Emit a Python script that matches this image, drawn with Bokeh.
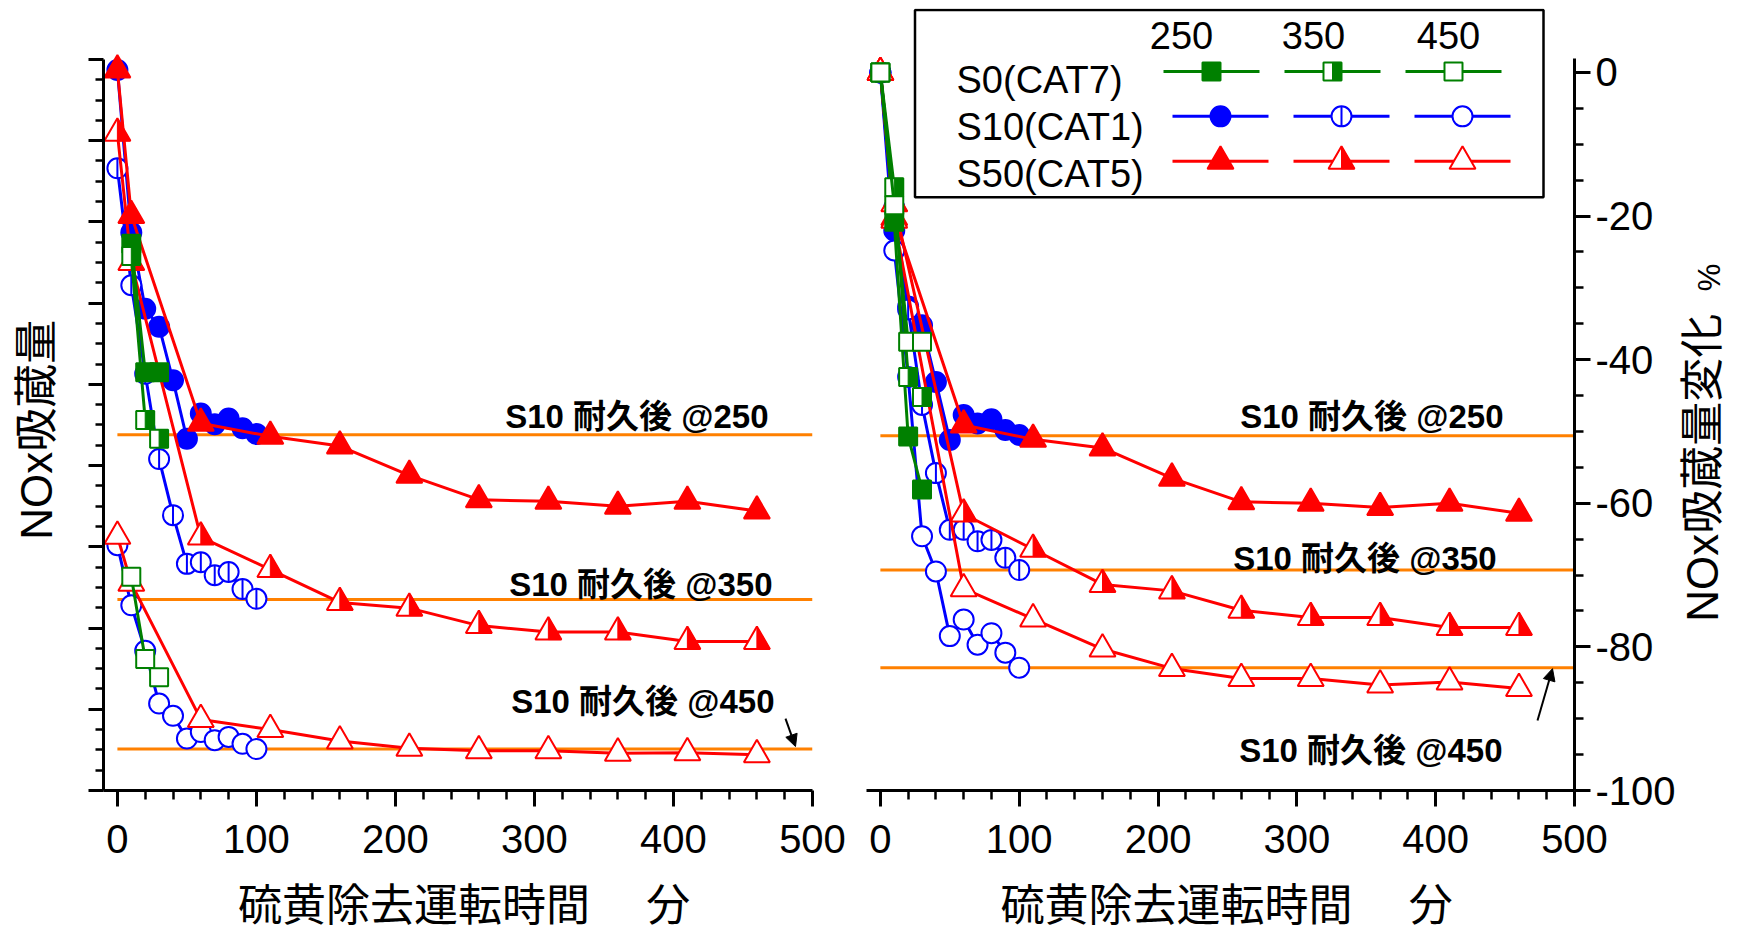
import math
from bokeh.plotting import figure
from bokeh.layouts import row
from bokeh.models import FixedTicker, Label, Arrow, NormalHead, Range1d
from bokeh.embed import file_html
from bokeh.resources import INLINE
from bokeh.core.properties import value

# ---------------- data ----------------
temps = ["250", "350", "450"]
catalysts = ["S0(CAT7)", "S10(CAT1)", "S50(CAT5)"]

time_s0_left = [10, 20, 30]
time_s0 = [0, 10, 20, 30]
time_s10 = [0, 10, 20, 30, 40, 50, 60, 70, 80, 90, 100]
time_s50 = [0, 10, 60, 110, 160, 210, 260, 310, 360, 410, 460]

# left panel: NOx storage amount (unlabelled axis units)
abs_s0_250 = [6.73, 5.15, 5.15]
abs_s0_350 = [6.58, 4.56, 4.33]
abs_s0_450 = [2.63, 1.62, 1.395]
abs_s10_250 = [8.87, 6.87, 5.93, 5.71, 5.05, 4.33, 4.64, 4.51, 4.58, 4.46, 4.39]
abs_s10_350 = [7.66, 6.22, 5.13, 4.08, 3.39, 2.79, 2.81, 2.65, 2.69, 2.48, 2.36]
abs_s10_450 = [3.02, 2.28, 1.72, 1.07, 0.92, 0.64, 0.72, 0.62, 0.66, 0.575, 0.51]
abs_s50_250 = [8.87, 7.08, 4.52, 4.36, 4.24, 3.88, 3.58, 3.56, 3.50, 3.56, 3.44]
abs_s50_350 = [8.09, 6.50, 3.12, 2.72, 2.315, 2.245, 2.03, 1.95, 1.95, 1.835, 1.835]
abs_s50_450 = [3.13, 2.55, 0.875, 0.75, 0.61, 0.52, 0.49, 0.49, 0.46, 0.465, 0.44]

# right panel: change of NOx storage amount, %
pct_s0_250 = [0, -20.8, -50.7, -58.1]
pct_s0_350 = [0, -16.0, -42.4, -45.2]
pct_s0_450 = [0, -18.5, -37.5, -37.5]
pct_s10_250 = [0, -22.0, -32.6, -35.2, -43.1, -51.2, -47.7, -48.9, -48.3, -49.8, -50.5]
pct_s10_350 = [0, -18.8, -33.0, -46.3, -55.8, -63.7, -63.7, -65.3, -65.1, -67.6, -69.3]
pct_s10_450 = [0, -24.8, -42.4, -64.6, -69.5, -78.5, -76.2, -79.7, -78.1, -80.8, -82.9]
pct_s50_250 = [0, -20.2, -49.1, -51.1, -52.3, -56.5, -59.8, -60.0, -60.6, -60.0, -61.4]
pct_s50_350 = [0, -18.3, -61.5, -66.4, -71.3, -72.2, -74.9, -75.9, -75.9, -77.3, -77.3]
pct_s50_450 = [0, -20.6, -71.9, -76.1, -80.3, -83.0, -84.4, -84.4, -85.3, -84.9, -85.8]

# S10 after durability reference levels (@250, @350, @450)
ref_x = [0, 500]
ref_abs = [4.38, 2.35, 0.51]
ref_pct = [-50.6, -69.3, -82.9]
ref_labels = ["S10 耐久後 @250", "S10 耐久後 @350", "S10 耐久後 @450"]

x_major = [0, 100, 200, 300, 400, 500]
x_minor = [v for v in range(20, 500, 20) if v % 100]
left_y_major = list(range(0, 10))
left_y_minor = [i * 0.25 for i in range(0, 37) if i % 4]
right_y_major = [-100, -80, -60, -40, -20, 0]
right_y_minor = [v for v in range(-95, 0, 5) if v % 20]
right_y_labels = {v: str(v) for v in right_y_major}

x_title = "\u00a0硫黄除去運転時間　 分"
left_y_title = "NOx吸蔵量"
right_y_title = "NOx吸蔵量変化"
right_y_unit = "%"

# ---------------- layout / style (page pixels) ----------------
FIG_H = 932
TL_X, L_X, R_X, TR_X, PAGE_W = 0, 64, 850, 1678, 1742
FRAME_TOP, FRAME_BOTTOM = 8, 791
L_FRAME = (103, 812)
R_FRAME = (866, 1574)
X_RANGE = (-10, 500)
L_Y_RANGE = (0, 9.627)
R_Y_RANGE = (-100, 8.90)

GREEN, BLUE, RED, ORANGE = "#008000", "#0000FF", "#FF0000", "#FF8000"
LATIN = "Liberation Sans"
MIXED = "Liberation Sans, Noto Sans CJK JP"
MSIZE = {"circle": 20, "square": 18, "triangle": 26}
SQ3 = math.sqrt(3)
MID = 0.3465  # em-box middle above the baseline (Liberation Sans)


def kx_of(frame):
    return (frame[1] - frame[0]) / (X_RANGE[1] - X_RANGE[0])


def ky_of(yr):
    return (FRAME_BOTTOM - FRAME_TOP) / (yr[1] - yr[0])


def page_to_data(px, py, frame, yr):
    x = X_RANGE[0] + (px - frame[0]) / kx_of(frame)
    y = yr[0] + (FRAME_BOTTOM - py) / ky_of(yr)
    return x, y


def make_fig(x0, x1, frame, yr, y_loc):
    width = x1 - x0
    p = figure(width=width, height=FIG_H,
               x_range=Range1d(*X_RANGE), y_range=Range1d(*yr),
               output_backend="svg", toolbar_location=None,
               y_axis_location=y_loc,
               min_border_left=frame[0] - x0,
               min_border_right=x1 - frame[1],
               min_border_top=FRAME_TOP,
               min_border_bottom=FIG_H - FRAME_BOTTOM)
    p.xgrid.visible = False
    p.ygrid.visible = False
    p.outline_line_color = None
    p.background_fill_color = "white"
    p.border_fill_color = "white"
    for ax in (p.xaxis[0], p.yaxis[0]):
        ax.axis_line_width = 3
        ax.axis_line_color = "black"
        ax.major_tick_line_width = 3
        ax.minor_tick_line_width = 2.5
        ax.major_tick_in = 0
        ax.minor_tick_in = 0
        ax.major_tick_out = 16
        ax.minor_tick_out = 9
        ax.major_label_text_font = LATIN
        ax.major_label_text_font_size = "40px"
        ax.major_label_text_color = "black"
    p.xaxis.ticker = FixedTicker(ticks=x_major, minor_ticks=x_minor)
    p.xaxis.major_label_standoff = 18
    p.xaxis.axis_label = x_title
    p.xaxis.axis_label_text_font = MIXED
    p.xaxis.axis_label_text_font_size = "44px"
    p.xaxis.axis_label_text_font_style = "normal"
    p.xaxis.axis_label_text_color = "black"
    p.xaxis.axis_label_standoff = 25
    return p


def side_fig(x0, x1):
    p = figure(width=x1 - x0, height=FIG_H, x_range=Range1d(x0, x1),
               y_range=Range1d(FRAME_BOTTOM, FRAME_TOP),
               x_axis_type=None, y_axis_type=None,
               output_backend="svg", toolbar_location=None,
               min_border_left=0, min_border_right=0, min_border_top=FRAME_TOP,
               min_border_bottom=FIG_H - FRAME_BOTTOM)
    p.outline_line_color = None
    p.background_fill_color = "white"
    p.border_fill_color = "white"
    return p


def draw_markers(p, xs, ys, color, kind, style, kx, ky):
    size = MSIZE[kind]
    fill = color if style == "filled" else "white"
    p.scatter(xs, ys, marker=kind, size=size, fill_color=fill,
              line_color=color, line_width=2)
    if style == "half":
        if kind == "circle":
            p.scatter(xs, ys, marker="dash", angle=math.pi / 2, size=size,
                      line_color=color, line_width=2)
        else:
            r = size / 2
            pxs, pys = [], []
            for x, y in zip(xs, ys):
                if kind == "square":
                    offs = [(0, -r), (r, -r), (r, r), (0, r)]
                else:
                    h = r * SQ3
                    a = h / 3
                    offs = [(0, -a), (r, -a), (0, h - a)]
                pxs.append([x + ox / kx for ox, oy in offs])
                pys.append([y + oy / ky for ox, oy in offs])
            p.patches(pxs, pys, fill_color=color, line_color=color, line_width=1)


def draw_series(p, xs, ys, color, kind, style, kx, ky):
    p.line(xs, ys, line_color=color, line_width=3)
    draw_markers(p, xs, ys, color, kind, style, kx, ky)


def add_text(p, frame, yr, px, py_base, text, size, align, bold=False, font=LATIN):
    x, y = page_to_data(px, py_base - MID * size, frame, yr)
    p.add_layout(Label(x=x, y=y, text=text, text_font=font,
                       text_font_style="bold" if bold else "normal",
                       text_font_size=f"{size}px", text_align=align,
                       text_baseline="middle", text_color="black"))


styles = ["filled", "half", "open"]

# ================= left figure =================
pl = make_fig(L_X, R_X, L_FRAME, L_Y_RANGE, "left")
pl.yaxis.ticker = FixedTicker(ticks=left_y_major, minor_ticks=left_y_minor)
pl.yaxis.bounds = (0, 9)
pl.yaxis.major_tick_out = 15
pl.yaxis.minor_tick_out = 8
pl.yaxis.major_label_text_font_size = "1px"
pl.yaxis.major_label_text_color = None
lkx, lky = kx_of(L_FRAME), ky_of(L_Y_RANGE)

for yv in ref_abs:
    pl.line(ref_x, [yv, yv], line_color=ORANGE, line_width=3)

left_series = [
    (time_s10, abs_s10_250, BLUE, "circle", "filled"),
    (time_s10, abs_s10_350, BLUE, "circle", "half"),
    (time_s10, abs_s10_450, BLUE, "circle", "open"),
    (time_s50, abs_s50_250, RED, "triangle", "filled"),
    (time_s50, abs_s50_350, RED, "triangle", "half"),
    (time_s50, abs_s50_450, RED, "triangle", "open"),
    (time_s0_left, abs_s0_250, GREEN, "square", "filled"),
    (time_s0_left, abs_s0_350, GREEN, "square", "half"),
    (time_s0_left, abs_s0_450, GREEN, "square", "open"),
]
for xs, ys, c, k, s in left_series:
    draw_series(pl, xs, ys, c, k, s, lkx, lky)

left_label_pos = [(768, 428), (772, 596), (774, 713)]
for (px, py), txt in zip(left_label_pos, ref_labels):
    add_text(pl, L_FRAME, L_Y_RANGE, px, py, txt, 33, "right", bold=True, font=MIXED)

x0, y0 = page_to_data(785, 719, L_FRAME, L_Y_RANGE)
x1, y1 = page_to_data(795, 747, L_FRAME, L_Y_RANGE)
pl.add_layout(Arrow(end=NormalHead(size=12, fill_color="black", line_color="black"),
                    x_start=x0, y_start=y0, x_end=x1, y_end=y1,
                    line_color="black", line_width=2))

# ================= right figure =================
pr = make_fig(R_X, TR_X, R_FRAME, R_Y_RANGE, "right")
pr.yaxis.ticker = FixedTicker(ticks=right_y_major, minor_ticks=right_y_minor)
pr.yaxis.bounds = (-100, 1.9)
pr.yaxis.major_label_standoff = 5
pr.yaxis.major_label_overrides = right_y_labels
rkx, rky = kx_of(R_FRAME), ky_of(R_Y_RANGE)

for yv in ref_pct:
    pr.line(ref_x, [yv, yv], line_color=ORANGE, line_width=3)

right_series = [
    (time_s10, pct_s10_250, BLUE, "circle", "filled"),
    (time_s10, pct_s10_350, BLUE, "circle", "half"),
    (time_s10, pct_s10_450, BLUE, "circle", "open"),
    (time_s50, pct_s50_250, RED, "triangle", "filled"),
    (time_s50, pct_s50_350, RED, "triangle", "half"),
    (time_s50, pct_s50_450, RED, "triangle", "open"),
    (time_s0, pct_s0_250, GREEN, "square", "filled"),
    (time_s0, pct_s0_350, GREEN, "square", "half"),
    (time_s0, pct_s0_450, GREEN, "square", "open"),
]
for xs, ys, c, k, s in right_series:
    draw_series(pr, xs, ys, c, k, s, rkx, rky)

right_label_pos = [(1503, 428), (1496, 570), (1502, 762)]
for (px, py), txt in zip(right_label_pos, ref_labels):
    add_text(pr, R_FRAME, R_Y_RANGE, px, py, txt, 33, "right", bold=True, font=MIXED)

x0, y0 = page_to_data(1537, 721, R_FRAME, R_Y_RANGE)
x1, y1 = page_to_data(1552, 669, R_FRAME, R_Y_RANGE)
pr.add_layout(Arrow(end=NormalHead(size=12, fill_color="black", line_color="black"),
                    x_start=x0, y_start=y0, x_end=x1, y_end=y1,
                    line_color="black", line_width=2))

# legend box
bl, bt = page_to_data(914.5, 9.5, R_FRAME, R_Y_RANGE)
br, bb = page_to_data(1543, 197, R_FRAME, R_Y_RANGE)
pr.quad(left=[bl], right=[br], top=[bt], bottom=[bb], fill_color="white",
        line_color="black", line_width=2.5)
header_x = [1181, 1313, 1448]
for hx, t in zip(header_x, temps):
    add_text(pr, R_FRAME, R_Y_RANGE, hx, 48, t, 38, "center")
legend_rows = [
    (catalysts[0], GREEN, "square", 71, 93, [1211, 1332, 1453]),
    (catalysts[1], BLUE, "circle", 116, 140, [1220, 1341, 1462]),
    (catalysts[2], RED, "triangle", 161, 187, [1220, 1341, 1462]),
]
for name, c, k, ly, base, cols in legend_rows:
    add_text(pr, R_FRAME, R_Y_RANGE, 956, base, name, 38, "left")
    for cx, s in zip(cols, styles):
        xa, ya = page_to_data(cx - 48, ly, R_FRAME, R_Y_RANGE)
        xb, _ = page_to_data(cx + 48, ly, R_FRAME, R_Y_RANGE)
        xm, _ = page_to_data(cx, ly, R_FRAME, R_Y_RANGE)
        pr.line([xa, xb], [ya, ya], line_color=c, line_width=3)
        draw_markers(pr, [xm], [ya], c, k, s, rkx, rky)

# ================= y-axis titles (side strips, page coordinates) =================
tl = side_fig(TL_X, L_X)
tl.text(x=[36], y=[540], text=[left_y_title], angle=math.pi / 2,
        text_font=value(MIXED), text_font_size=value("44px"),
        text_align="left", text_baseline="middle", text_color="black")

tr = side_fig(TR_X, PAGE_W)
tr.text(x=[1702], y=[622], text=[right_y_title], angle=math.pi / 2,
        text_font=value(MIXED), text_font_size=value("44px"),
        text_align="left", text_baseline="middle", text_color="black")
tr.text(x=[1709], y=[291], text=[right_y_unit], angle=math.pi / 2,
        text_font=value(LATIN), text_font_size=value("31px"),
        text_align="left", text_baseline="middle", text_color="black")

layout = row(tl, pl, pr, tr)
open("out.html", "w").write(file_html(layout, INLINE))
